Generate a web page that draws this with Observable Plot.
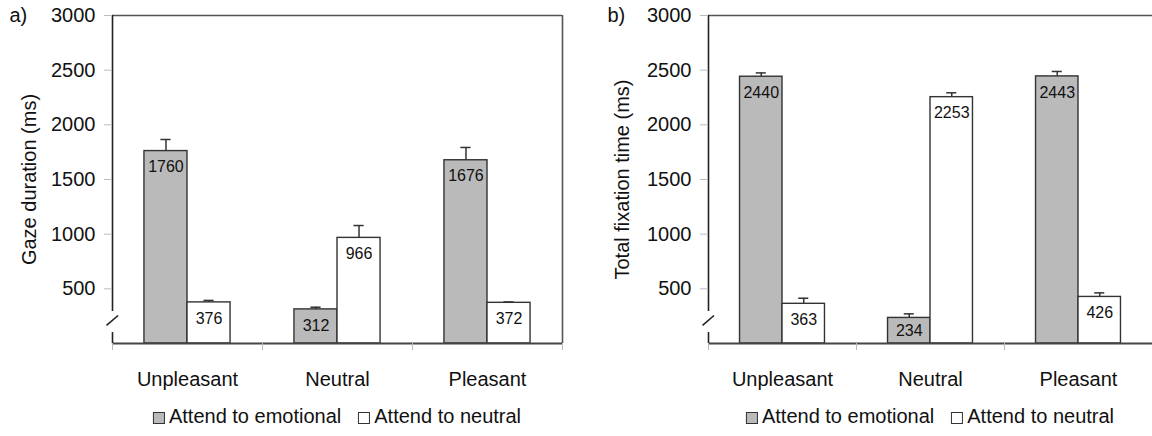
<!DOCTYPE html>
<html><head><meta charset="utf-8">
<script src="https://cdn.jsdelivr.net/npm/d3@7"></script>
<script src="https://cdn.jsdelivr.net/npm/@observablehq/plot@0.6"></script>
<style>
body{margin:0;background:#fff;font-family:Arial,"Liberation Sans",sans-serif;}
#wrap{display:flex;width:1152px;height:436px;overflow:hidden;}
.panel{width:576px;height:436px;position:relative;}
.panel svg{display:block;}
.legend{position:absolute;top:405px;font-size:20px;line-height:22px;white-space:nowrap;transform:translateX(-50%);display:flex;align-items:center;color:#111;}
.sw{display:inline-block;width:10px;height:10px;border:1.3px solid #333;margin-right:4px;margin-top:3px;}
.gap{display:inline-block;width:17px;}
</style></head><body>
<div id="wrap"><div class="panel" id="pa"></div><div class="panel" id="pb"></div></div>
<script>
// ---- data ----
const categories = ["Unpleasant", "Neutral", "Pleasant"];
const conditions = ["Attend to emotional", "Attend to neutral"];
const yTicks = [500, 1000, 1500, 2000, 2500, 3000];

const gazeEmotional   = [1760, 312, 1676];
const gazeNeutral     = [376, 966, 372];
const gazeEmotionalSE = [106, 20, 117];
const gazeNeutralSE   = [18, 113, 8];

const fixEmotional    = [2440, 234, 2443];
const fixNeutral      = [363, 2253, 426];
const fixEmotionalSE  = [35, 37, 45];
const fixNeutralSE    = [51, 40, 37];

const colors = ["#bababa", "#ffffff"];

function rowsOf(emo, neu, emoSE, neuSE) {
  const rows = [];
  categories.forEach((c, i) => {
    rows.push({cat: c, i, cond: conditions[0], side: -1, value: emo[i], se: emoSE[i]});
    rows.push({cat: c, i, cond: conditions[1], side: 1, value: neu[i], se: neuSE[i]});
  });
  return rows;
}

const BW = 0.287;          // bar width as a fraction of a category band
const CAP = 0.034;         // half width of error-bar caps
const H = 395, MT = 15, MB = 52;
const unitsPerPx = 3000 / (H - MT - MB);

function chart({rows, panel, title, marginLeft, marginRight, rightBorder, titleDx, panelDx}) {
  const center = d => d.i + 0.5 + d.side * BW / 2;
  const marks = [
    // bars
    Plot.rectY(rows, {
      x1: d => d.side < 0 ? d.i + 0.5 - BW : d.i + 0.5,
      x2: d => d.side < 0 ? d.i + 0.5 : d.i + 0.5 + BW,
      y1: 0, y2: "value", fill: "cond", stroke: "#333", strokeWidth: 1.4
    }),
    // error bars (upper only)
    Plot.ruleX(rows, {x: center, y1: "value", y2: d => d.value + d.se, stroke: "#333", strokeWidth: 1.5}),
    Plot.ruleY(rows, {y: d => d.value + d.se, x1: d => center(d) - CAP, x2: d => center(d) + CAP, stroke: "#333", strokeWidth: 1.5}),
    // value labels
    Plot.text(rows, {
      x: center,
      y: d => Math.max(d.value / 2, d.value - 16 * unitsPerPx),
      text: d => String(d.value), fontSize: 16, fill: "#111", lineAnchor: "middle"
    }),
    // frame lines
    Plot.ruleY([0], {stroke: "#444", strokeWidth: 1.8}),
    Plot.ruleY([3000], {stroke: "#555", strokeWidth: 1.6}),
    // y axis line with break
    Plot.ruleX([0], {y1: 293, y2: 3000, stroke: "#222", strokeWidth: 1.6}),
    Plot.ruleX([0], {y1: 0, y2: 100, stroke: "#222", strokeWidth: 1.6}),
    Plot.link([0], {x1: -0.04, x2: 0.037, y1: 165, y2: 256, stroke: "#222", strokeWidth: 1.6}),
    // axes
    Plot.axisY({ticks: yTicks, tickSize: 8, text: null, stroke: "#bbb", label: null}),
    Plot.axisY({ticks: yTicks, tickFormat: d => String(d), tickSize: 0, tickPadding: 17, fontSize: 20, fill: "#111", label: null}),
    Plot.axisX({ticks: [0, 1, 2, 3], tickSize: 7, text: null, stroke: "#bbb", label: null}),
    Plot.axisX({ticks: [0.5, 1.5, 2.5], tickFormat: d => categories[Math.floor(d)], tickSize: 0, tickPadding: 28, fontSize: 20, fill: "#111", label: null}),
    // titles
    Plot.text([title], {frameAnchor: "left", rotate: -90, dx: titleDx, text: d => d, textAnchor: "middle", lineAnchor: "middle", fontSize: 20, fill: "#111"}),
    Plot.text([panel], {frameAnchor: "top-left", dx: panelDx, text: d => d, textAnchor: "start", lineAnchor: "middle", fontSize: 20, fill: "#111"})
  ];
  if (rightBorder) marks.push(Plot.ruleX([3], {stroke: "#555", strokeWidth: 1.6}));
  return Plot.plot({
    width: 576, height: H,
    marginTop: MT, marginBottom: MB, marginLeft, marginRight,
    x: {domain: [0, 3]},
    y: {domain: [0, 3000]},
    color: {domain: conditions, range: colors},
    style: {fontFamily: "Arial, 'Liberation Sans', sans-serif", background: "#fff", overflow: "visible"},
    marks
  });
}

function legend(centerX) {
  const el = document.createElement("div");
  el.className = "legend";
  el.style.left = centerX + "px";
  conditions.forEach((c, k) => {
    if (k > 0) { const g = document.createElement("span"); g.className = "gap"; el.appendChild(g); }
    const s = document.createElement("span"); s.className = "sw"; s.style.background = colors[k];
    const t = document.createElement("span"); t.textContent = c;
    el.appendChild(s); el.appendChild(t);
  });
  return el;
}

const pa = document.getElementById("pa");
pa.appendChild(chart({
  rows: rowsOf(gazeEmotional, gazeNeutral, gazeEmotionalSE, gazeNeutralSE),
  panel: "a)", title: "Gaze duration (ms)",
  marginLeft: 112, marginRight: 14, rightBorder: true, titleDx: -83, panelDx: -103
}));
pa.appendChild(legend(337));

const pb = document.getElementById("pb");
pb.appendChild(chart({
  rows: rowsOf(fixEmotional, fixNeutral, fixEmotionalSE, fixNeutralSE),
  panel: "b)", title: "Total fixation time (ms)",
  marginLeft: 132, marginRight: 0, rightBorder: false, titleDx: -86, panelDx: -101
}));
pb.appendChild(legend(354));
</script>
</body></html>
